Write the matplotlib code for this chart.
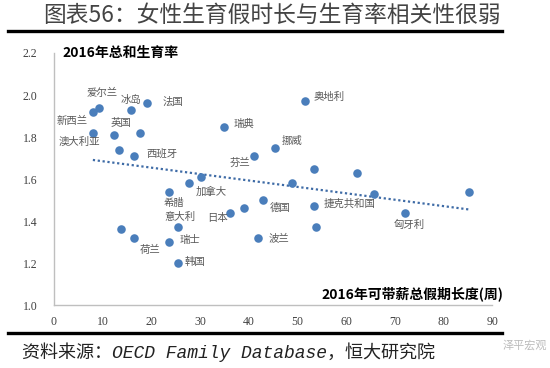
import numpy as np
import matplotlib
matplotlib.use("Agg")
import matplotlib.pyplot as plt

plt.rcParams['font.family'] = ['Noto Sans CJK SC', 'DejaVu Sans']

# weeks of leave (x) and total fertility rate (y)
leave_weeks = [8.0, 9.3, 15.9, 19.2, 8.0, 12.4, 17.7, 13.4, 16.4,
               51.5, 35.0, 45.3, 41.0, 53.5, 62.2, 30.3, 27.8, 23.7,
               13.8, 16.4, 23.6, 25.4, 25.4, 48.8, 65.8, 42.9, 39.0,
               36.1, 53.4, 53.9, 41.9, 72.0, 85.2]
fertility = [1.92, 1.94, 1.93, 1.96, 1.82, 1.81, 1.82, 1.74, 1.71,
             1.97, 1.85, 1.75, 1.71, 1.65, 1.63, 1.61, 1.58, 1.54,
             1.36, 1.32, 1.30, 1.37, 1.20, 1.58, 1.53, 1.50, 1.46,
             1.44, 1.47, 1.37, 1.32, 1.44, 1.54]

# country labels and where they sit (data coords)
label_names = ['爱尔兰', '冰岛', '法国', '新西兰', '英国', '澳大利亚', '西班牙',
               '奥地利', '瑞典', '挪威', '芬兰', '加拿大', '希腊', '意大利',
               '日本', '德国', '捷克共和国', '瑞士', '荷兰', '韩国', '波兰', '匈牙利']
label_x = [10.0, 15.9, 24.4, 3.7, 13.7, 5.2, 22.1,
           56.6, 39.0, 48.9, 38.2, 32.4, 24.6, 25.8,
           33.7, 46.5, 60.8, 28.0, 19.7, 28.9, 46.3, 73.0]
label_y = [2.008, 1.976, 1.967, 1.878, 1.868, 1.778, 1.719,
           1.990, 1.862, 1.781, 1.680, 1.540, 1.487, 1.420,
           1.416, 1.465, 1.484, 1.310, 1.262, 1.205, 1.319, 1.384]

x_ticks = np.arange(0, 100, 10)
y_ticks = [1.0, 1.2, 1.4, 1.6, 1.8, 2.0, 2.2]

blue = '#4A7EBB'
grey_text = '#595959'

fig = plt.figure(figsize=(5.5, 3.68), dpi=100)
ax = fig.add_axes([0.098, 0.171, 0.797, 0.685])

ax.scatter(leave_weeks, fertility, s=38, color=blue, zorder=3, linewidths=0)

# linear trend across the data range
coef = np.polyfit(leave_weeks, fertility, 1)
xs = np.array([min(leave_weeks), max(leave_weeks)])
ax.plot(xs, np.polyval(coef, xs), color='#3E6BA6', lw=1.6, ls=(0, (1, 1.2)), zorder=2)

for name, lx, ly in zip(label_names, label_x, label_y):
    ax.text(lx, ly, name, fontsize=7.5, color=grey_text, ha='center', va='center')

ax.set_xlim(0, 90)
ax.set_ylim(1.0, 2.2)
ax.set_xticks(x_ticks)
ax.set_yticks(y_ticks)
ax.set_yticklabels([f'{v:.1f}' for v in y_ticks])
ax.tick_params(length=0, labelsize=8.5, colors='#404040')
ax.tick_params(axis='x', pad=8)
ax.tick_params(axis='y', pad=12)
for lab in ax.get_xticklabels() + ax.get_yticklabels():
    lab.set_fontfamily(['Liberation Serif'])
for side in ['top', 'right']:
    ax.spines[side].set_visible(False)
for side in ['left', 'bottom']:
    ax.spines[side].set_color('#BFBFBF')
    ax.spines[side].set_linewidth(1.0)

ax.text(0.02, 1.0, '2016年总和生育率', transform=ax.transAxes, fontsize=10,
        fontweight='bold', ha='left', va='center', color='black')
ax.text(1.025, 0.044, '2016年可带薪总假期长度(周)', transform=ax.transAxes,
        fontsize=10, fontweight='bold', ha='right', va='center', color='black')

# title block and source line
fig.text(0.078, 1 - 15 / 368, '图表56：女性生育假时长与生育率相关性很弱', fontsize=16.4,
         ha='left', va='center', color='#444444')
fig.add_artist(plt.Line2D([8 / 550, 502 / 550], [1 - 31 / 368, 1 - 31 / 368],
                          color='black', lw=2.4))
fig.add_artist(plt.Line2D([8 / 550, 502 / 550], [1 - 333 / 368, 1 - 333 / 368],
                          color='black', lw=2.4))
fig.text(0.04, 1 - 352 / 368, '资料来源：OECD Family Database，恒大研究院',
         fontsize=13, style='italic', ha='left', va='center', color='#222222',
         family=['Liberation Mono', 'Noto Sans CJK SC'])
fig.text(0.955, 1 - 345 / 368, '泽平宏观', fontsize=8, color='#BBBBBB',
         ha='center', va='center')

fig.savefig('out.png', dpi=100)
